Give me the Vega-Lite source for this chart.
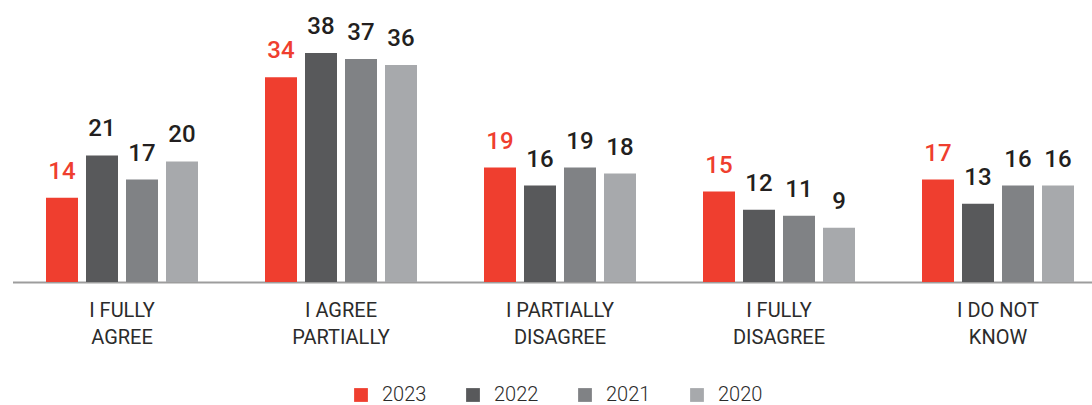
{
  "$schema": "https://vega.github.io/schema/vega-lite/v6.json",
  "autosize": {"type": "none"},
  "padding": {"left": 0, "top": 0, "right": 0, "bottom": 123},
  "width": 1092,
  "height": 282,
  "background": "white",
  "config": {
    "view": {"stroke": null},
    "font": "Roboto"
  },
  "data": {
    "values": [
      {"answer": "I FULLY AGREE", "year": "2023", "value": 14},
      {"answer": "I FULLY AGREE", "year": "2022", "value": 21},
      {"answer": "I FULLY AGREE", "year": "2021", "value": 17},
      {"answer": "I FULLY AGREE", "year": "2020", "value": 20},
      {"answer": "I AGREE PARTIALLY", "year": "2023", "value": 34},
      {"answer": "I AGREE PARTIALLY", "year": "2022", "value": 38},
      {"answer": "I AGREE PARTIALLY", "year": "2021", "value": 37},
      {"answer": "I AGREE PARTIALLY", "year": "2020", "value": 36},
      {"answer": "I PARTIALLY DISAGREE", "year": "2023", "value": 19},
      {"answer": "I PARTIALLY DISAGREE", "year": "2022", "value": 16},
      {"answer": "I PARTIALLY DISAGREE", "year": "2021", "value": 19},
      {"answer": "I PARTIALLY DISAGREE", "year": "2020", "value": 18},
      {"answer": "I FULLY DISAGREE", "year": "2023", "value": 15},
      {"answer": "I FULLY DISAGREE", "year": "2022", "value": 12},
      {"answer": "I FULLY DISAGREE", "year": "2021", "value": 11},
      {"answer": "I FULLY DISAGREE", "year": "2020", "value": 9},
      {"answer": "I DO NOT KNOW", "year": "2023", "value": 17},
      {"answer": "I DO NOT KNOW", "year": "2022", "value": 13},
      {"answer": "I DO NOT KNOW", "year": "2021", "value": 16},
      {"answer": "I DO NOT KNOW", "year": "2020", "value": 16}
    ]
  },
  "encoding": {
    "x": {
      "field": "answer",
      "type": "nominal",
      "sort": null,
      "scale": {"range": [12.5, 1107.5], "paddingInner": 0, "paddingOuter": 0},
      "axis": {
        "title": null,
        "labelAngle": 0,
        "ticks": false,
        "domain": true,
        "domainColor": "#9d9d9d",
        "domainWidth": 2,
        "labelExpr": "[substring(datum.value, 0, lastindexof(datum.value, ' ')), substring(datum.value, lastindexof(datum.value, ' ') + 1)]",
        "labelFont": "Roboto",
        "labelFontSize": 20,
        "labelFontWeight": 400,
        "labelColor": "#2b2b2b",
        "labelLineHeight": 27.5,
        "labelBaseline": "top",
        "labelPadding": 18,
        "grid": false
      }
    },
    "xOffset": {
      "field": "year",
      "type": "nominal",
      "scale": {"domain": ["2023", "2022", "2021", "2020"], "paddingInner": 0.2, "paddingOuter": 0.8375}
    },
    "y": {
      "field": "value",
      "type": "quantitative",
      "scale": {"domain": [0, 46.8], "nice": false, "zero": true},
      "axis": null
    }
  },
  "layer": [
    {
      "mark": {"type": "bar"},
      "encoding": {
        "color": {
          "field": "year",
          "type": "nominal",
          "scale": {
            "domain": ["2023", "2022", "2021", "2020"],
            "range": ["#ef3e2f", "#58595b", "#808285", "#a7a9ac"]
          },
          "legend": {
            "title": null,
            "orient": "none",
            "direction": "horizontal",
            "legendX": 351,
            "legendY": 385,
            "symbolType": "square",
            "symbolSize": 190,
            "symbolStrokeWidth": 0,
            "labelFont": "Roboto",
            "labelFontSize": 20,
            "labelFontWeight": 300,
            "labelColor": "#2b2b2b",
            "labelOffset": 11,
            "columnPadding": 36
          }
        }
      }
    },
    {
      "mark": {"type": "text", "baseline": "alphabetic", "dy": -19, "font": "Roboto", "fontSize": 24, "fontWeight": 500},
      "encoding": {
        "text": {"field": "value", "type": "quantitative"},
        "color": {
          "condition": {"test": "datum.year === '2023'", "value": "#ef3e2f"},
          "value": "#231f20"
        }
      }
    }
  ]
}
